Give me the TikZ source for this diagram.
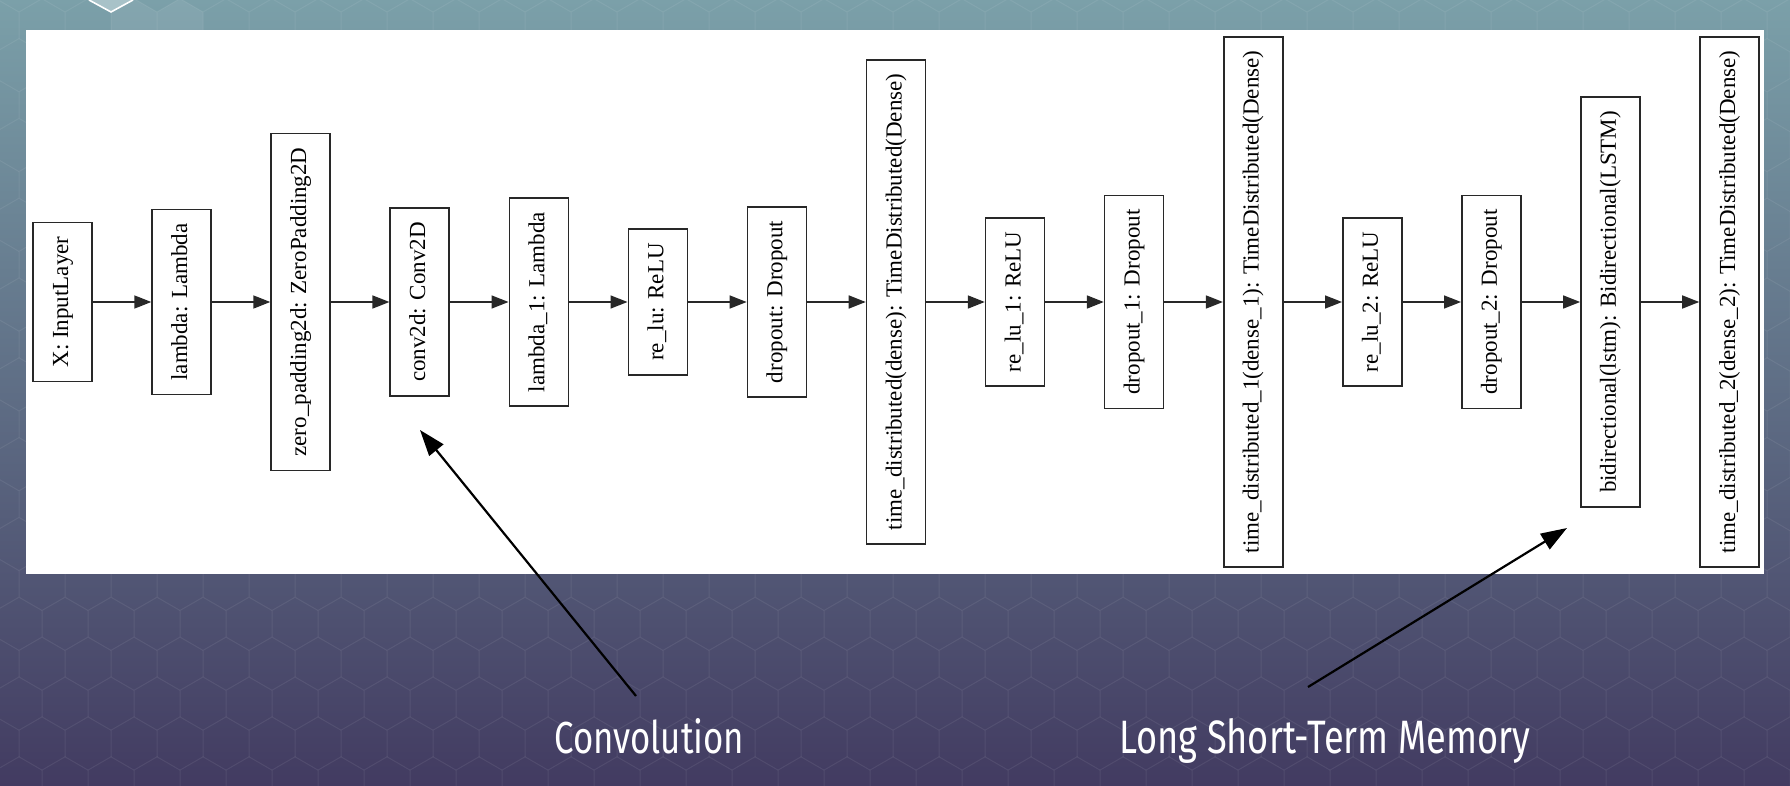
\documentclass[tikz,border=0pt]{standalone}
\usepackage{graphicx}
\usepackage{fontspec}
\setmainfont{Liberation Serif}
\newfontfamily\labfont{Fira Sans}
\usetikzlibrary{arrows.meta}
\definecolor{bgtop}{RGB}{123,160,169}
\definecolor{bgmid}{RGB}{90,104,138}
\definecolor{bgbot}{RGB}{66,59,97}
\definecolor{boxline}{RGB}{40,40,40}
\definecolor{hexhi}{RGB}{168,194,200}
\begin{document}
\begin{tikzpicture}[x=1pt,y=-1pt,
  layer/.style={draw=boxline, line width=1.6pt, fill=white, rotate=90,
    minimum height=59pt, inner xsep=14pt, inner ysep=0pt,
    text height=16pt, text depth=5pt,
    font=\fontsize{23}{27}\selectfont, text=black},
  flow/.style={-{Triangle[length=17pt,width=13pt]}, line width=1.6pt, draw=boxline},
  callout/.style={-{Triangle[length=26pt,width=18pt]}, line width=2.2pt, draw=black},
  caption/.style={text=white, inner sep=0pt, anchor=base west},
  hexline/.style={draw=white, draw opacity=0.07, line width=1pt}]
\useasboundingbox (0,0) rectangle (1790,786);
% background
\shade[top color=bgtop, middle color=bgmid, bottom color=bgbot] (0,0) rectangle (1790,786);
% hexagon texture
\foreach \r in {0,...,21}{
  \foreach \c in {0,...,41}{
    \pgfmathsetmacro{\cx}{111+(\c-3)*46+mod(\r,2)*23}
    \pgfmathsetmacro{\cy}{-14.6+\r*39.9}
    \draw[hexline] (\cx-23,\cy+13.3) -- (\cx-23,\cy-13.3) -- (\cx,\cy-26.6) -- (\cx+23,\cy-13.3);
  }
}
% highlighted hexagons at the top
\fill[white, opacity=0.07] (111,38.6) -- (111,12) -- (134,-1.3) -- (157,12) -- (180,-1.3) -- (203,12) -- (203,38.6) -- (180,51.9) -- (157,38.6) -- (134,51.9) -- cycle;
\fill[hexhi] (89,-2) -- (89,0) -- (111,12) -- (133,0) -- (133,-2) -- cycle;
\draw[white, line width=1.6pt] (89,0) -- (111,12) -- (133,0);
% white panel
\fill[white] (26,30) rectangle (1764,574);
% layers
\node[layer] (L1)  at (62.5,302)   {X: InputLayer};
\node[layer] (L2)  at (181.6,302)  {lambda: Lambda};
\node[layer] (L3)  at (300.6,302)  {zero\_padding2d: ZeroPadding2D};
\node[layer] (L4)  at (419.7,302)  {conv2d: Conv2D};
\node[layer] (L5)  at (538.8,302)  {lambda\_1: Lambda};
\node[layer] (L6)  at (657.8,302)  {re\_lu: ReLU};
\node[layer] (L7)  at (776.9,302)  {dropout: Dropout};
\node[layer] (L8)  at (896.0,302)  {time\_distributed(dense): TimeDistributed(Dense)};
\node[layer] (L9)  at (1015.1,302) {re\_lu\_1: ReLU};
\node[layer] (L10) at (1134.1,302) {dropout\_1: Dropout};
\node[layer] (L11) at (1253.2,302) {time\_distributed\_1(dense\_1): TimeDistributed(Dense)};
\node[layer] (L12) at (1372.3,302) {re\_lu\_2: ReLU};
\node[layer] (L13) at (1491.3,302) {dropout\_2: Dropout};
\node[layer] (L14) at (1610.4,302) {bidirectional(lstm): Bidirectional(LSTM)};
\node[layer] (L15) at (1729.5,302) {time\_distributed\_2(dense\_2): TimeDistributed(Dense)};
\foreach \a/\b in {L1/L2,L2/L3,L3/L4,L4/L5,L5/L6,L6/L7,L7/L8,L8/L9,L9/L10,L10/L11,L11/L12,L12/L13,L13/L14,L14/L15}
  \draw[flow] (\a) -- (\b);
% callouts
\coordinate (convtail) at (636,696);
\coordinate (convtip) at (420,430);
\coordinate (lstmtail) at (1308,687);
\coordinate (lstmtip) at (1567,528);
\draw[callout] (convtail) -- (convtip);
\draw[callout] (lstmtail) -- (lstmtip);
\node[caption] (conv) at (554,753) {\resizebox{190pt}{35pt}{\labfont Convolution}};
\node[caption] (lstm) at (1119,753) {\resizebox{411pt}{35pt}{\labfont Long Short-Term Memory}};
\end{tikzpicture}
\end{document}
